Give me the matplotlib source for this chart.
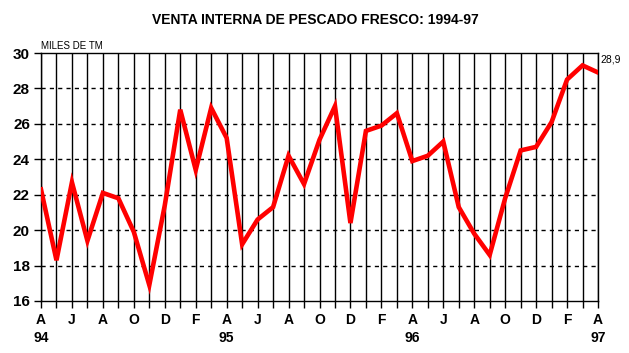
import matplotlib
matplotlib.use("Agg")
import matplotlib.pyplot as plt
from matplotlib.ticker import FixedLocator

months = ["A", "M", "J", "J", "A", "S", "O", "N", "D", "E", "F", "M"]
values = [22.3, 18.3, 22.7, 19.4, 22.1, 21.8, 19.9, 16.9, 21.4, 26.8,
          23.4, 26.9, 25.2, 19.2, 20.6, 21.3, 24.2, 22.6, 25.1, 27.0,
          20.4, 25.6, 25.9, 26.6, 23.9, 24.2, 25.0, 21.3, 19.8, 18.6,
          21.8, 24.5, 24.7, 26.1, 28.5, 29.3, 28.9]
years = {0: "94", 12: "95", 24: "96", 36: "97"}
yticks = [16, 18, 20, 22, 24, 26, 28, 30]
title = "VENTA INTERNA DE PESCADO FRESCO: 1994-97"
unit = "MILES DE TM"
last_label = "28,9"

narrow = ["Liberation Sans Narrow", "Liberation Sans", "DejaVu Sans"]
plain = ["Liberation Sans", "DejaVu Sans"]

fig = plt.figure(figsize=(6.29, 3.53), dpi=100)
ax = fig.add_axes([41/629, 1-301/353, (598-41)/629, (301-53)/353])

x = list(range(len(values)))
ax.set_xlim(0, len(values) - 1)
ax.set_ylim(16, 30)

# grids
for i in x:
    ax.axvline(i, color="black", lw=1.0, zorder=1)
for v in yticks[1:-1]:
    ax.axhline(v, color="black", lw=1.0, ls=(0, (3, 3)), zorder=1)

ax.plot(x, values, color="#ff0000", lw=3.3, zorder=3, solid_joinstyle="miter")

ax.xaxis.set_major_locator(FixedLocator(x))
labels = []
for i in x:
    if i % 2 == 0:
        lab = months[i % 12]
        if i in years:
            lab += "\n" + years[i]
        labels.append(lab)
    else:
        labels.append("")
ax.set_xticklabels(labels, fontsize=10, fontweight="bold", family=narrow,
                   linespacing=1.35, va="top")
ax.set_yticks(yticks)
ax.set_yticklabels([str(v) for v in yticks], fontsize=11, fontweight="bold", family=narrow)
ax.tick_params(axis="x", direction="out", length=5, width=1, pad=4, color="black")
ax.tick_params(axis="y", direction="out", length=5, width=1, pad=3, color="black")
for s in ax.spines.values():
    s.set_linewidth(1.0)
    s.set_color("black")

fig.text(315/629, 1-20/353, title, ha="center", va="center", fontsize=10,
         fontweight="bold", family=narrow)
ax.text(0, 1.01, unit, transform=ax.transAxes, ha="left", va="bottom",
        fontsize=7, family=plain)
ax.annotate(last_label, xy=(x[-1], values[-1]), xytext=(2, 6),
            textcoords="offset points", ha="left", va="bottom", fontsize=7.5,
            family=plain, annotation_clip=False)

fig.savefig("out.png", dpi=100)
